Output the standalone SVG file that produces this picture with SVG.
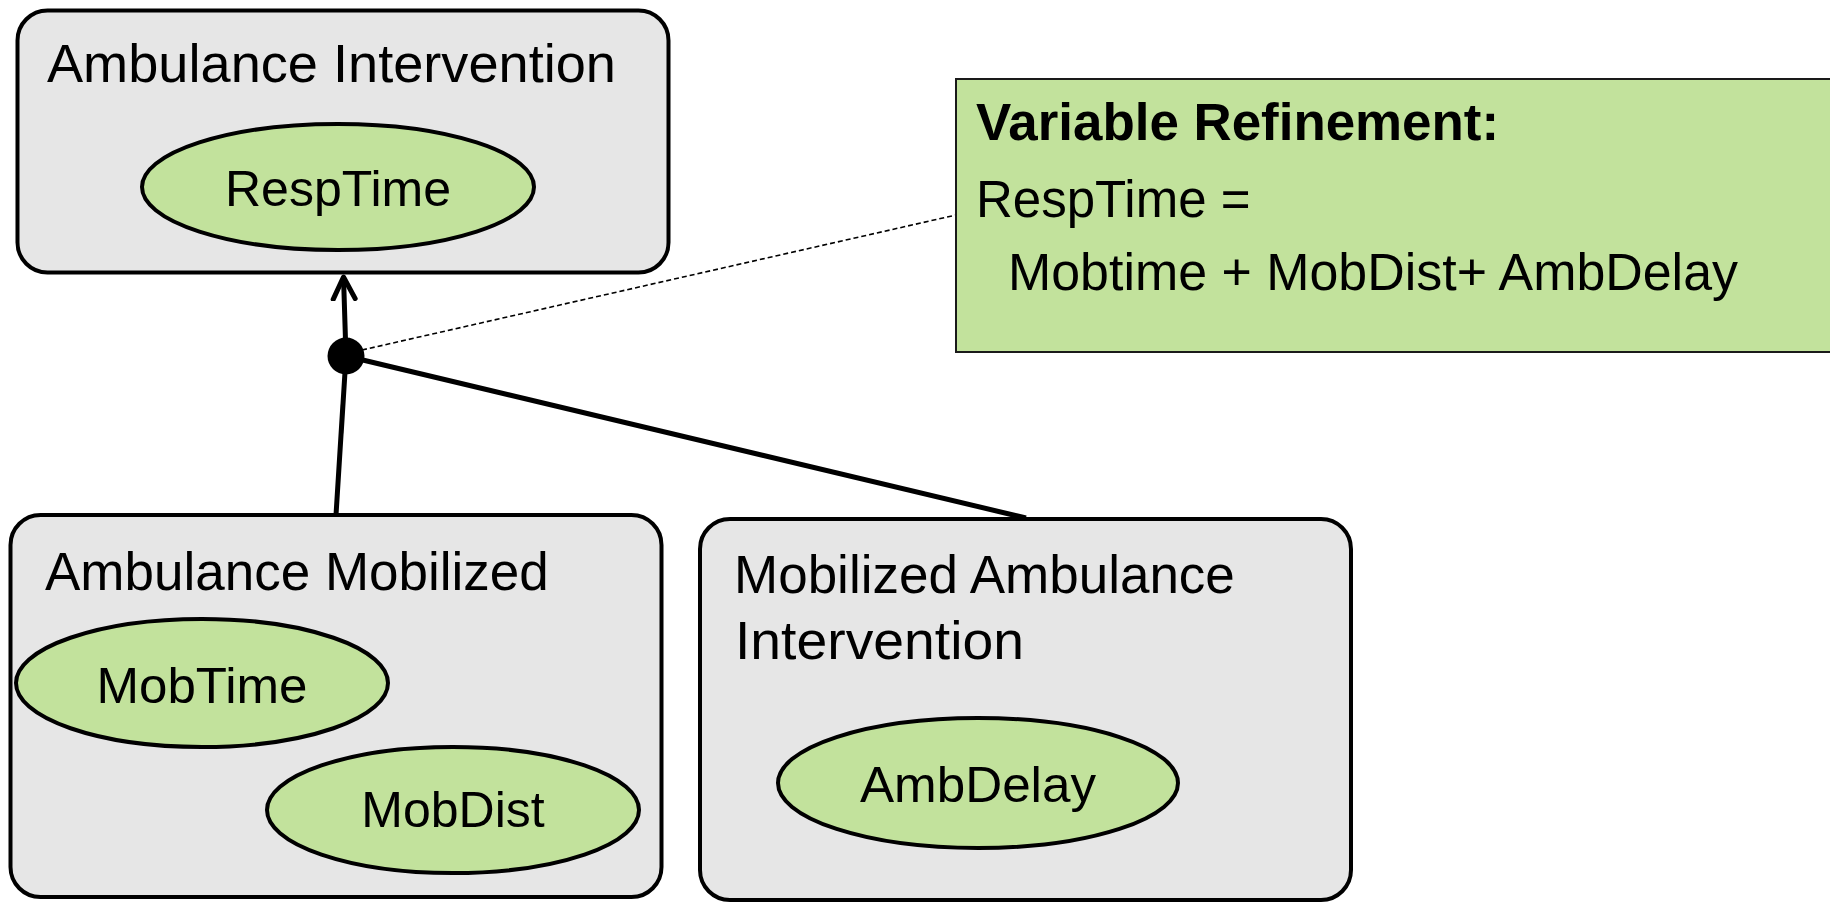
<svg xmlns="http://www.w3.org/2000/svg" width="1830" height="903" viewBox="0 0 1830 903">
  <style>
    .box { fill: #e6e6e6; stroke: #000; stroke-width: 4; }
    .var { fill: #c2e29c; stroke: #000; stroke-width: 4; }
    .note { fill: #c2e29c; stroke: #1a1a1a; stroke-width: 2; }
    .title { font-family: "Liberation Sans", Arial, sans-serif; font-size: 53px; fill: #000; }
    .label { font-family: "Liberation Sans", Arial, sans-serif; font-size: 50px; fill: #000; text-anchor: middle; }
    .ntext { font-family: "Liberation Sans", Arial, sans-serif; font-size: 51px; fill: #000; }
    .link { fill: none; stroke: #000; stroke-width: 5; }
    .trace { fill: none; stroke: #000; stroke-width: 1.6; stroke-dasharray: 5 3; }
  </style>
  <defs>
    <marker id="open-arrow" markerUnits="userSpaceOnUse" viewBox="0 0 30 30" refX="24" refY="15" markerWidth="30" markerHeight="30" orient="auto">
      <path d="M2,4 L24,15 L2,26" fill="none" stroke="#000" stroke-width="5" stroke-linecap="round" stroke-linejoin="round"/>
    </marker>
  </defs>

  <rect width="1830" height="903" fill="#fff"/>

  <!-- refinement connectors -->
  <g id="connectors">
    <line class="trace" x1="362" y1="350" x2="956" y2="215"/>
    <line class="link" x1="346" y1="356" x2="343.5" y2="277" marker-end="url(#open-arrow)"/>
    <line class="link" x1="346" y1="356" x2="336" y2="515"/>
    <line class="link" x1="346" y1="356" x2="1026" y2="518"/>
    <circle cx="346" cy="356" r="18.5" fill="#000"/>
  </g>

  <g id="ambulance-intervention">
    <rect class="box" x="17.5" y="10.5" width="651" height="262" rx="30"/>
    <text class="title" x="47" y="82" textLength="569" lengthAdjust="spacingAndGlyphs">Ambulance Intervention</text>
    <g id="resp-time">
      <ellipse class="var" cx="338" cy="187" rx="196" ry="63"/>
      <text class="label" x="338" y="206">RespTime</text>
    </g>
  </g>

  <g id="variable-refinement">
    <rect class="note" x="956" y="79" width="890" height="273"/>
    <text class="ntext" x="976" y="140" font-weight="bold" textLength="523" lengthAdjust="spacingAndGlyphs">Variable Refinement:</text>
    <text class="ntext" x="976" y="217">RespTime =</text>
    <text class="ntext" x="1008" y="290" textLength="730" lengthAdjust="spacingAndGlyphs">Mobtime + MobDist+ AmbDelay</text>
  </g>

  <g id="ambulance-mobilized">
    <rect class="box" x="10.5" y="515" width="651" height="382" rx="30"/>
    <text class="title" x="45" y="590">Ambulance Mobilized</text>
    <g id="mob-time">
      <ellipse class="var" cx="202" cy="683" rx="186" ry="64"/>
      <text class="label" x="202" y="703" textLength="211" lengthAdjust="spacingAndGlyphs">MobTime</text>
    </g>
    <g id="mob-dist">
      <ellipse class="var" cx="453" cy="810" rx="186" ry="63"/>
      <text class="label" x="453" y="827">MobDist</text>
    </g>
  </g>

  <g id="mobilized-ambulance-intervention">
    <rect class="box" x="700" y="519" width="651" height="381" rx="30"/>
    <text class="title" x="734" y="593">Mobilized Ambulance</text>
    <text class="title" x="735" y="659" textLength="289" lengthAdjust="spacingAndGlyphs">Intervention</text>
    <g id="amb-delay">
      <ellipse class="var" cx="978" cy="783" rx="200" ry="65"/>
      <text class="label" x="978" y="802" textLength="236" lengthAdjust="spacingAndGlyphs">AmbDelay</text>
    </g>
  </g>
</svg>
